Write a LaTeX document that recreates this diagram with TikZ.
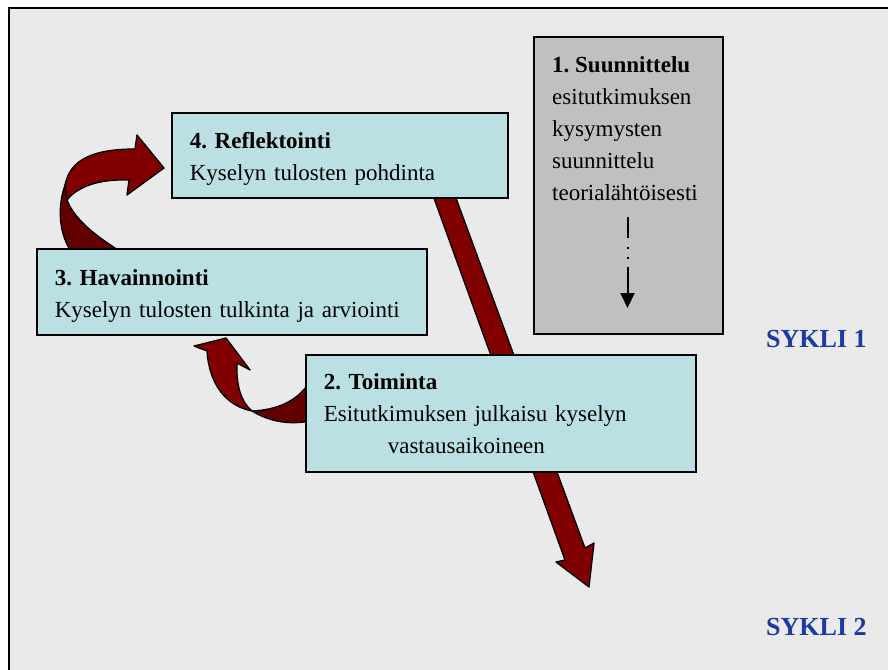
\documentclass[tikz,border=0pt]{standalone}
\usepackage{fontspec}
\setmainfont{Liberation Serif}
\usetikzlibrary{arrows.meta}
\frenchspacing

\definecolor{paper}{RGB}{234,234,234}
\definecolor{stepfill}{RGB}{187,224,227}
\definecolor{planfill}{RGB}{192,192,192}
\definecolor{ribbon}{RGB}{128,0,0}
\definecolor{ribbonback}{RGB}{98,0,0}
\definecolor{cycleblue}{RGB}{28,58,160}

% strut that lowers a two-line text block inside its box
\newcommand{\lowerstrut}{\rule{0pt}{24pt}}

\begin{document}
\begin{tikzpicture}[x=1pt,y=-1pt,
  stagebox/.style={draw=black, line width=1.6pt, fill=stepfill, rectangle,
    anchor=north west, inner xsep=18pt, inner ysep=0pt, align=left,
    font=\fontsize{23}{32}\selectfont},
  planbox/.style={draw=black, line width=1.6pt, fill=planfill, rectangle,
    anchor=north west, inner sep=0pt},
  plantext/.style={anchor=north west, inner sep=0pt, align=left,
    font=\fontsize{23}{32.2}\selectfont},
  cyclelabel/.style={anchor=west, inner sep=0pt, text=cycleblue,
    font=\fontsize{26}{30}\selectfont\bfseries},
  bandfront/.style={fill=ribbon, draw=black, line width=1.3pt, line join=round},
  bandback/.style={fill=ribbonback, draw=black, line width=1.3pt, line join=round}]

\useasboundingbox (0,0) rectangle (888,669);
\clip (0,0) rectangle (888,669);

% page and frame
\fill[white] (0,0) rectangle (888,669);
\draw[fill=paper, line width=1.6pt] (9,8) rectangle (900,690);

% long arrow from cycle 1 down towards cycle 2
\path[bandfront] (431,190) -- (565,560) -- (556,562) -- (589,587)
  -- (594,543) -- (585,548) -- (453,190) -- cycle;

% curved arrow from 3 up to 4: twisted back part, then front with head
\path[bandback] (65,185) .. controls (58,205) and (58,230) .. (70,250)
  -- (118,250) .. controls (95,235) and (75,220) .. (67,200) -- cycle;
\path[bandfront] (65,185) .. controls (70,160) and (92,149) .. (135,149)
  -- (137,135) -- (164,168) -- (127,195) -- (129,180)
  .. controls (100,179) and (78,186) .. (67,200) -- cycle;

% curved arrow from 2 up to 3: twisted back part, then front with head
\path[bandback] (252,411) .. controls (275,410) and (298,402) .. (310,381)
  -- (310,421) .. controls (290,425) and (270,422) .. (252,411) -- cycle;
\path[bandfront] (194,346) -- (226,338) -- (250,370) -- (237,363)
  .. controls (236,385) and (241,402) .. (252,411)
  .. controls (226,406) and (209,384) .. (207,351) -- cycle;

% stage boxes
\node[stagebox, text width=300pt, minimum height=85pt] (reflect) at (171,112)
  {\lowerstrut\textbf{4. Reflektointi}\\Kyselyn tulosten pohdinta};
\node[stagebox, text width=354pt, minimum height=86pt] (observe) at (36,248)
  {\lowerstrut\textbf{3. Havainnointi}\\Kyselyn tulosten tulkinta ja arviointi};
\node[stagebox, text width=354pt, minimum height=117pt] (act) at (305,354)
  {\textbf{2. Toiminta}\\Esitutkimuksen julkaisu kyselyn\\\hspace*{64pt}vastausaikoineen};

% planning box
\node[planbox, minimum width=189pt, minimum height=297pt] (plan) at (533,36) {};
\node[plantext] (plantxt) at (552,56)
  {\textbf{1. Suunnittelu}\\esitutkimuksen\\kysymysten\\suunnittelu\\teorialähtöisesti};
\coordinate (planfrom) at (627.5,217);
\coordinate (planto) at (627.5,308);
\draw[line width=2pt,
  dash pattern=on 21pt off 9pt on 1.5pt off 8.5pt on 1.5pt off 8pt on 60pt,
  -{Triangle[width=14pt,length=15pt]}] (planfrom) -- (planto);

% cycle labels
\node[cyclelabel] (cycleone) at (766,339) {SYKLI 1};
\node[cyclelabel] (cycletwo) at (766,627) {SYKLI 2};

\end{tikzpicture}
\end{document}
